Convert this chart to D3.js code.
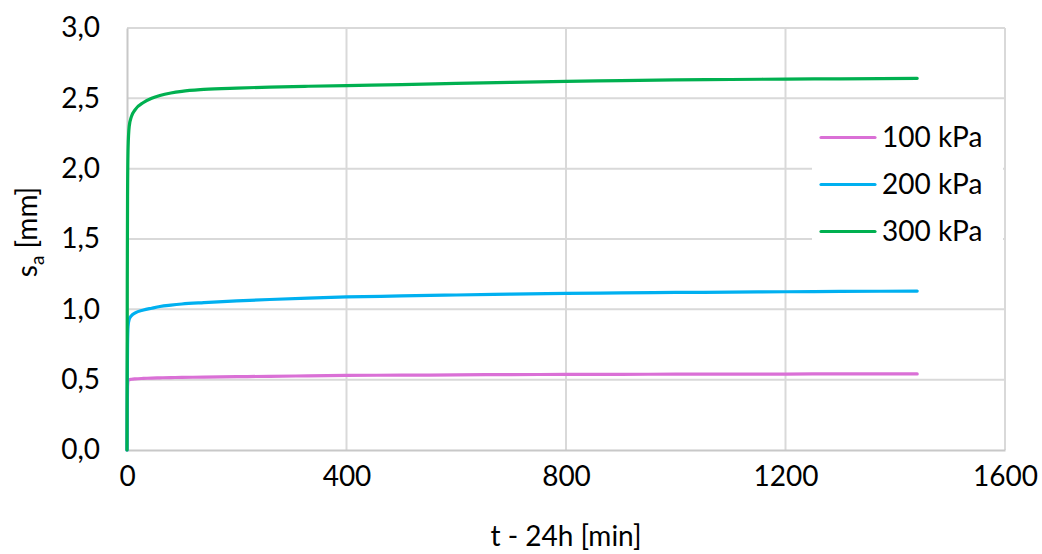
<!DOCTYPE html>
<html>
<head>
<meta charset="utf-8">
<script src="https://cdn.jsdelivr.net/npm/d3@7"></script>
<style>
  html, body { margin: 0; padding: 0; background: #fff; }
  svg { display: block; }
  text { font-family: Lato, "Open Sans", sans-serif; fill: #000; }
</style>
</head>
<body>
<script>
// ---- data ----
const seriesNames = ["100 kPa", "200 kPa", "300 kPa"];
const times = [0, 0.5, 1, 2, 4, 8, 15, 30, 45, 60, 80, 100, 140, 200, 260, 330, 400, 500, 600, 700, 800, 900, 1000, 1100, 1200, 1300, 1440];
const s100 = [0, 0.30, 0.45, 0.495, 0.500, 0.503, 0.506, 0.509, 0.511, 0.513, 0.515, 0.516, 0.518, 0.521, 0.524, 0.527, 0.530, 0.532, 0.534, 0.536, 0.537, 0.538, 0.539, 0.540, 0.540, 0.541, 0.541];
const s200 = [0, 0.50, 0.75, 0.88, 0.93, 0.955, 0.975, 0.995, 1.008, 1.020, 1.030, 1.038, 1.048, 1.060, 1.070, 1.080, 1.088, 1.095, 1.102, 1.108, 1.113, 1.117, 1.120, 1.122, 1.125, 1.127, 1.130];
const s300 = [0, 1.20, 1.80, 2.15, 2.30, 2.37, 2.42, 2.47, 2.50, 2.52, 2.538, 2.550, 2.563, 2.573, 2.580, 2.586, 2.591, 2.597, 2.606, 2.614, 2.621, 2.626, 2.631, 2.634, 2.637, 2.639, 2.642];
const xTicks = [0, 400, 800, 1200, 1600];
const yTicks = [0, 0.5, 1.0, 1.5, 2.0, 2.5, 3.0];
const colors = ["#DA70D6", "#00B0F0", "#00B050"];

// ---- layout ----
const W = 1042, H = 554;
const m = { left: 127, top: 28, right: 37, bottom: 104 };
const iw = W - m.left - m.right, ih = H - m.top - m.bottom;

const svg = d3.select("body").append("svg").attr("width", W).attr("height", H);
const g = svg.append("g").attr("transform", `translate(${m.left},${m.top})`);

const x = d3.scaleLinear().domain([0, 1600]).range([0, iw]);
const y = d3.scaleLinear().domain([0, 3]).range([ih, 0]);
const fmtY = v => d3.format(".1f")(v).replace(".", ",");

// gridlines
g.append("g").selectAll("line").data(yTicks.filter(d => d > 0)).join("line")
  .attr("x1", 0).attr("x2", iw).attr("y1", d => y(d)).attr("y2", d => y(d))
  .attr("stroke", "#d9d9d9").attr("stroke-width", 2);
g.append("g").selectAll("line").data(xTicks.filter(d => d > 0)).join("line")
  .attr("y1", 0).attr("y2", ih).attr("x1", d => x(d)).attr("x2", d => x(d))
  .attr("stroke", "#d9d9d9").attr("stroke-width", 2);

// axes
const xAxis = g.append("g").attr("transform", `translate(0,${ih})`)
  .call(d3.axisBottom(x).tickValues(xTicks).tickSize(0).tickPadding(16).tickFormat(d3.format("d")));
const yAxis = g.append("g")
  .call(d3.axisLeft(y).tickValues(yTicks).tickSize(0).tickPadding(27).tickFormat(fmtY));
[xAxis, yAxis].forEach(a => {
  a.select(".domain").attr("stroke", "#c8c8c8").attr("stroke-width", 2);
  a.selectAll("text").style("font-family", "Lato, 'Open Sans', sans-serif").style("font-size", "28px").attr("fill", "#000");
});

// lines
const series = [s100, s200, s300];
const line = d3.line().x(d => x(d[0])).y(d => y(d[1])).curve(d3.curveMonotoneX);
series.forEach((s, i) => {
  g.append("path").datum(times.map((t, k) => [t, s[k]]))
    .attr("d", line).attr("fill", "none").attr("stroke", colors[i])
    .attr("stroke-width", 3.2).attr("stroke-linejoin", "round").attr("stroke-linecap", "round");
});

// legend
const leg = svg.append("g");
leg.append("rect").attr("x", 812).attr("y", 112).attr("width", 191).attr("height", 144).attr("fill", "#fff");
seriesNames.forEach((n, i) => {
  const yy = 137.5 + i * 47;
  leg.append("line").attr("x1", 821).attr("x2", 875).attr("y1", yy).attr("y2", yy)
    .attr("stroke", colors[i]).attr("stroke-width", 3.2).attr("stroke-linecap", "round");
  leg.append("text").attr("x", 882).attr("y", yy).attr("dy", "0.35em")
    .style("font-size", "28px").text(n);
});

// axis titles
svg.append("text").attr("x", m.left + iw / 2).attr("y", 536).attr("dy", "0.35em")
  .attr("text-anchor", "middle").style("font-size", "28px").text("t - 24h [min]");
const yt = svg.append("text").attr("transform", `translate(37,${232}) rotate(-90)`)
  .attr("text-anchor", "middle").style("font-size", "28px");
yt.append("tspan").text("s");
yt.append("tspan").attr("dy", 7).style("font-size", "19px").text("a");
yt.append("tspan").attr("dy", -7).text(" [mm]");
</script>
</body>
</html>
